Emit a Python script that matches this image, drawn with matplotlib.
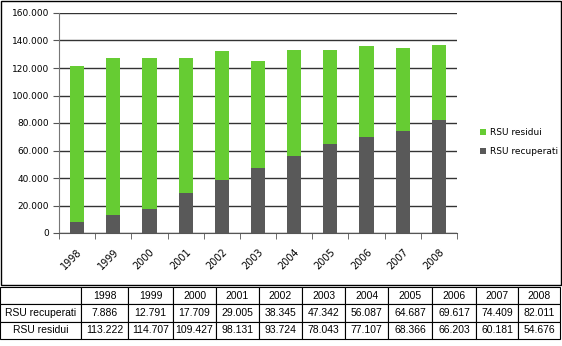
import numpy as np
import matplotlib
matplotlib.use('Agg')
import matplotlib.pyplot as plt
import matplotlib.ticker as mtick
from matplotlib.patches import Rectangle

# Data
years = ['1998', '1999', '2000', '2001', '2002', '2003', '2004', '2005', '2006', '2007', '2008']
rsu_recuperati = [7886, 12791, 17709, 29005, 38345, 47342, 56087, 64687, 69617, 74409, 82011]
rsu_residui = [113222, 114707, 109427, 98131, 93724, 78043, 77107, 68366, 66203, 60181, 54676]
row_labels = ['RSU recuperati', 'RSU residui']

W, H = 562, 346
green = '#66CC33'
grey = '#595959'


def px(x0, y0, x1, y1):
    # pixel box (top-left origin) -> figure fraction
    return [x0 / W, 1 - y1 / H, (x1 - x0) / W, (y1 - y0) / H]


def fmt_it(v):
    return f'{int(v):,}'.replace(',', '.')


fig = plt.figure(figsize=(W / 100, H / 100), dpi=100)
fig.patch.set_facecolor('white')

# outer frame of the chart
fig.patches.append(Rectangle((1 / W, 1 - 285 / H), 559.5 / W, 284 / H,
                             transform=fig.transFigure, fill=False,
                             edgecolor='black', linewidth=1.0))

ax = fig.add_axes(px(59, 13, 457, 233))
x = np.arange(len(years))
b1 = ax.bar(x, rsu_recuperati, width=0.39, color=grey, zorder=3)
b2 = ax.bar(x, rsu_residui, width=0.39, bottom=rsu_recuperati, color=green, zorder=3)

ax.set_xlim(-0.5, len(years) - 0.5)
ax.set_ylim(0, 160000)
ax.set_yticks(np.arange(0, 160001, 20000))
ax.yaxis.set_major_formatter(mtick.FuncFormatter(lambda v, p: fmt_it(v)))
ax.yaxis.grid(True, color='#333333', linewidth=1.0, zorder=0)
ax.set_axisbelow(True)

ax.set_xticks(x)
ax.set_xticklabels(years, rotation=45, ha='right', rotation_mode='anchor')
ax.set_xticks(np.arange(-0.5, len(years), 1), minor=True)
ax.tick_params(axis='x', which='major', length=0, pad=10, labelsize=7)
ax.tick_params(axis='x', which='minor', length=4, color='#555555')
ax.tick_params(axis='y', length=4, color='#555555', labelsize=6.5, pad=3)

for s in ['top', 'right']:
    ax.spines[s].set_visible(False)
ax.spines['left'].set_color('#777777')
ax.spines['bottom'].set_color('#555555')

fig.legend([b2, b1], ['RSU residui', 'RSU recuperati'],
           loc='center left', bbox_to_anchor=(472 / W, 1 - 142 / H),
           frameon=False, fontsize=6.5, handlelength=0.7, handleheight=0.7,
           handletextpad=0.4, labelspacing=1.1)

# data table below the chart
edges = [0, 81, 128, 173, 216, 259, 302, 345, 388, 432, 476, 518, 560]
tax = fig.add_axes(px(0, 287, 560, 339))
tax.set_axis_off()
cells = [[''] + years,
         [row_labels[0]] + [fmt_it(v) for v in rsu_recuperati],
         [row_labels[1]] + [fmt_it(v) for v in rsu_residui]]
widths = np.diff(edges) / (edges[-1] - edges[0])
tbl = tax.table(cellText=cells, colWidths=widths, bbox=[0, 0, 1, 1], cellLoc='center')
tbl.auto_set_font_size(False)
for (r, c), cell in tbl.get_celld().items():
    cell.set_fontsize(7.5)
    cell.get_text().set_fontfamily('Liberation Sans')
    cell.set_linewidth(0.8)
    cell.set_edgecolor('black')

fig.savefig('out.png', dpi=100, facecolor='white')
